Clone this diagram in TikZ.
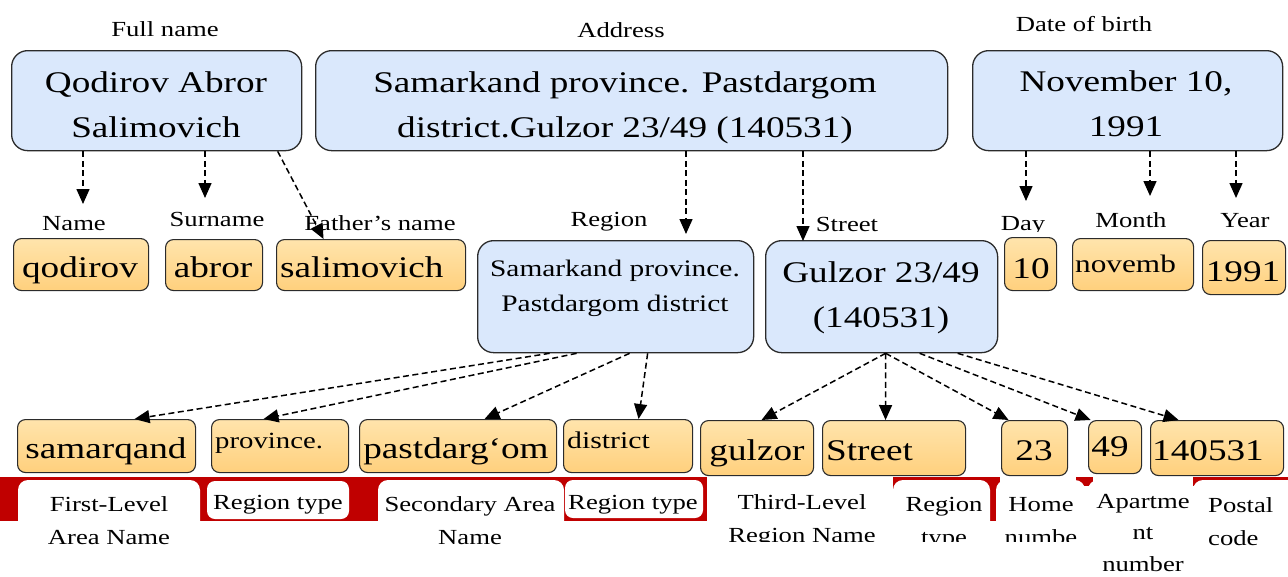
\documentclass[tikz,border=0pt]{standalone}
\usepackage{fontspec}
\setmainfont{Liberation Serif}[FakeStretch=1.24]
\usetikzlibrary{arrows.meta}
\definecolor{bluefill}{HTML}{DAE8FC}
\definecolor{boxline}{HTML}{2B2B2B}
\definecolor{orT}{RGB}{255,228,172}
\definecolor{orB}{RGB}{255,208,125}
\definecolor{band}{HTML}{C00000}
\begin{document}
\begin{tikzpicture}[x=1pt,y=-1pt,
  bluebox/.style={draw=boxline, line width=1.3pt, fill=bluefill, rounded corners=16pt, anchor=north west, inner sep=0pt},
  orbox/.style={draw=boxline, line width=1.1pt, top color=orT, bottom color=orB, rounded corners=8pt, anchor=north west, inner sep=0pt},
  big/.style={font=\fontsize{30}{45}\selectfont, inner sep=0pt},
  mid/.style={font=\fontsize{23.7}{35}\selectfont, inner sep=0pt},
  lab/.style={font=\fontsize{21.5}{33}\selectfont, inner sep=0pt},
  arr/.style={dash pattern=on 6pt off 3.5pt, line width=1.5pt, -{Triangle[length=15pt,width=13pt]}},
  tab/.style={fill=white, rounded corners=10pt},
]
\useasboundingbox (0,0) rectangle (1288,576);

% ---- top labels and boxes
\node[lab, anchor=base] (lfull) at (165,36) {Full name};
\node[lab, anchor=base] (laddr) at (621,37) {Address};
\node[lab, anchor=base] (ldob) at (1084,31) {Date of birth};

\node[bluebox, minimum width=290pt, minimum height=100pt] (fn) at (11,50) {};
\node[bluebox, minimum width=632pt, minimum height=100pt] (ad) at (315,50) {};
\node[bluebox, minimum width=310pt, minimum height=100pt] (db) at (972,50) {};
% multi-line nodes: base = baseline of last line
\node[big, align=center, anchor=base] (fnt) at (156,137) {Qodirov Abror\\Salimovich};
\node[big, align=center, anchor=base] (adt) at (625,137) {Samarkand province. Pastdargom\\district.Gulzor 23/49 (140531)};
\node[big, align=center, anchor=base] (dbt) at (1126,136) {November 10,\\1991};

% ---- second row labels
\node[lab, anchor=base] (lname) at (74,230) {Name};
\node[lab, anchor=base] (lsur) at (217,226) {Surname};
\node[lab, anchor=base] (lfat) at (380,230) {Father’s name};
\node[lab, anchor=base] (lreg) at (609,226) {Region};
\node[lab, anchor=base] (lstr) at (847,231) {Street};
\begin{scope}
\clip (990,190) rectangle (1060,231);
\node[lab, anchor=base] (lday) at (1023,230) {Day};
\end{scope}
\node[lab, anchor=base] (lmon) at (1131,227) {Month};
\node[lab, anchor=base] (lyear) at (1245,227) {Year};

% ---- second row boxes
\node[orbox, minimum width=135pt, minimum height=52pt] (bq) at (13,238) {};
\node[orbox, minimum width=97pt, minimum height=51pt] (ba) at (165,239) {};
\node[orbox, minimum width=189pt, minimum height=51pt] (bs) at (276,239) {};
\node[big, anchor=base] (tq) at (80,277) {qodirov};
\node[big, anchor=base] (ta) at (213,277) {abror};
\node[big, anchor=base west] (ts) at (280,277) {salimovich};

\node[bluebox, minimum width=276pt, minimum height=112pt] (rg) at (477,240) {};
\node[bluebox, minimum width=232pt, minimum height=112pt] (st) at (765,240) {};
\node[mid, align=center, anchor=base] (rgt) at (615,311) {Samarkand province.\\Pastdargom district};
\node[big, align=center, anchor=base] (stt) at (881,327) {Gulzor 23/49\\(140531)};

\node[orbox, minimum width=52pt, minimum height=53pt] (b10) at (1004,237) {};
\node[orbox, minimum width=121pt, minimum height=52pt] (bnov) at (1072,238) {};
\node[orbox, minimum width=83pt, minimum height=54pt] (b91) at (1202,240) {};
\node[big, anchor=base] (t10) at (1031,278) {10};
\node[font=\fontsize{25.2}{30}\selectfont, inner sep=0pt, anchor=base west] (tnov) at (1075,272) {novemb};
\node[big, anchor=base] (t91) at (1243,281) {1991};

% ---- bottom boxes
\node[orbox, minimum width=178pt, minimum height=53pt] (b1) at (17,419) {};
\node[orbox, minimum width=137pt, minimum height=53pt] (b2) at (211,419) {};
\node[orbox, minimum width=197pt, minimum height=53pt] (b3) at (359,419) {};
\node[orbox, minimum width=129pt, minimum height=53pt] (b4) at (563,419) {};
\node[orbox, minimum width=113pt, minimum height=55pt] (b5) at (700,420) {};
\node[orbox, minimum width=143pt, minimum height=55pt] (b6) at (822,420) {};
\node[orbox, minimum width=66pt, minimum height=55pt] (b7) at (1001,420) {};
\node[orbox, minimum width=53pt, minimum height=53pt] (b8) at (1088,420) {};
\node[orbox, minimum width=133pt, minimum height=55pt] (b9) at (1150,420) {};
\node[big, anchor=base] (t1) at (106,458) {samarqand};
\node[font=\fontsize{23.2}{28}\selectfont, inner sep=0pt, anchor=base west] (t2) at (215,448) {province.};
\node[big, anchor=base] (t3) at (456,458) {pastdarg‘om};
\node[font=\fontsize{24}{28}\selectfont, inner sep=0pt, anchor=base west] (t4) at (567,448) {district};
\node[big, anchor=base] (t5) at (757,460) {gulzor};
\node[big, anchor=base west] (t6) at (826,460) {Street};
\node[big, anchor=base] (t7) at (1034,460) {23};
\node[big, anchor=base] (t8) at (1110,456) {49};
\node[big, anchor=base west] (t9) at (1152,460) {140531};

% ---- arrows
\coordinate (a1) at (83,204);
\coordinate (a2) at (205,198);
\coordinate (a4) at (686,234);
\coordinate (a5) at (803,241);
\coordinate (a6) at (1026,201);
\coordinate (a7) at (1150,196);
\coordinate (a8) at (1236,198);
\draw[arr] (fn.south -| a1) -- (a1);
\draw[arr] (fn.south -| a2) -- (a2);
\draw[arr] ([xshift=121pt]fn.south) -- ([xshift=-47.5pt]bs.north);
\draw[arr] (ad.south -| a4) -- (a4);
\draw[arr] (ad.south -| a5) -- (a5);
\draw[arr] (db.south -| a6) -- (a6);
\draw[arr] (db.south -| a7) -- (a7);
\draw[arr] (db.south -| a8) -- (a8);

\draw[arr] ([xshift=-66pt]rg.south) -- ([xshift=28pt]b1.north);
\draw[arr] ([xshift=-39pt]rg.south) -- ([xshift=-16.5pt]b2.north);
\draw[arr] ([xshift=14pt]rg.south) -- ([xshift=26.5pt]b3.north);
\draw[arr] ([xshift=32pt]rg.south) -- ([xshift=10.5pt]b4.north);

\draw[arr] ([xshift=4pt]st.south) -- ([xshift=4.5pt]b5.north);
\draw[arr] ([xshift=4pt]st.south) -- ([xshift=-8.5pt]b6.north);
\draw[arr] ([xshift=4pt]st.south) -- ([xshift=-26pt]b7.north);
\draw[arr] ([xshift=38pt]st.south) -- ([xshift=-24.5pt]b8.north);
\draw[arr] ([xshift=76pt]st.south) -- ([xshift=-38.5pt]b9.north);

% ---- red band with white tabs
\fill[band] (0,477) rectangle (707,521);
\fill[band] (893,477) rectangle (1000,521);
\fill[band] (1076,477) rectangle (1093,486);
\fill[band] (1193,477) rectangle (1288,486);
\fill[tab] (18,480) rectangle (200,560);
\fill[tab, rounded corners=8pt] (207,481) rectangle (349,519);
\fill[tab] (378,480) rectangle (564,560);
\fill[tab, rounded corners=8pt] (565,480) rectangle (703,518);
\fill[tab] (893,480) rectangle (990,560);
\fill[tab] (996,480) rectangle (1085,560);
\fill[tab] (1088,480) rectangle (1193,580);
\fill[tab] (1193,480) rectangle (1300,580);

% ---- bottom labels
\node[lab, align=center, anchor=base] (c1) at (109,544) {First-Level\\Area Name};
\node[lab, anchor=base] (c2) at (278,509) {Region type};
\node[lab, align=center, anchor=base] (c3) at (470,544) {Secondary Area\\Name};
\node[lab, anchor=base] (c4) at (633,509) {Region type};
\begin{scope}
\clip (703,470) rectangle (1086,541);
\node[lab, align=center, anchor=base] (c5) at (802,542) {Third-Level\\Region Name};
\node[lab, align=center, anchor=base] (c6) at (944,544) {Region\\type};
\node[lab, align=center, anchor=base] (c7) at (1041,544) {Home\\numbe};
\end{scope}
\node[lab, align=center, anchor=base, font=\fontsize{21.5}{31.5}\selectfont] (c8) at (1143,571) {Apartme\\nt\\number};
\node[lab, align=left, anchor=base west] (c9) at (1208,545) {Postal\\code};
\end{tikzpicture}
\end{document}
